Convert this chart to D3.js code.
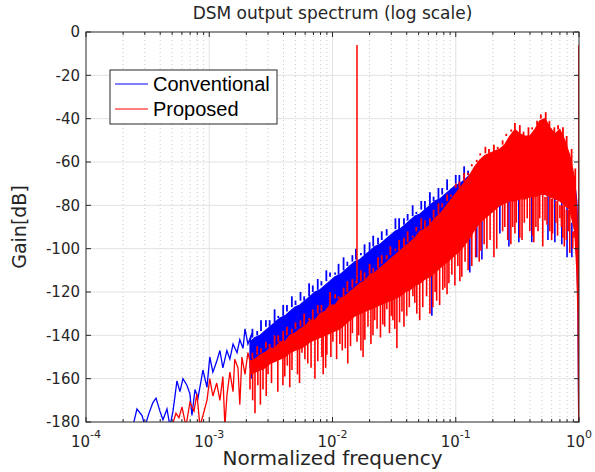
<!DOCTYPE html>
<html>
<head>
<meta charset="utf-8">
<script src="https://cdn.jsdelivr.net/npm/d3@7"></script>
<style>
  body { margin: 0; background: #fff; }
  svg text { font-family: "DejaVu Sans", "Noto Sans", sans-serif; fill: #262626; }
  .legend text { font-family: "Liberation Sans", Arial, sans-serif; fill: #000; }
</style>
</head>
<body>
<div id="chart"></div>
<script>
// DSM output spectrum — two noisy spectra on a log-frequency axis

const width = 595;
const height = 472;
const margin = { top: 32, right: 16, bottom: 50, left: 86 };

// ---- data ----
const yTicks = [0, -20, -40, -60, -80, -100, -120, -140, -160, -180];
const xDecades = [1e-4, 1e-3, 1e-2, 1e-1, 1];
const xExponents = ["-4", "-3", "-2", "-1", "0"];
const seriesNames = ["Conventional", "Proposed"];

// frequency grid of the dense part of both spectra
const freqs = [
  2.14e-3, 2.35e-3, 2.58e-3, 2.83e-3, 3.11e-3, 3.41e-3, 3.74e-3, 4.11e-3, 4.51e-3, 4.95e-3,
  5.44e-3, 5.97e-3, 6.56e-3, 7.20e-3, 7.91e-3, 8.68e-3, 9.53e-3, 1.045e-2, 1.148e-2, 1.26e-2,
  1.38e-2, 1.52e-2, 1.67e-2, 1.83e-2, 2.01e-2, 2.21e-2, 2.42e-2, 2.66e-2, 2.92e-2, 3.21e-2,
  3.52e-2, 3.87e-2, 4.25e-2, 4.66e-2, 5.12e-2, 5.62e-2, 6.17e-2, 6.77e-2, 7.43e-2, 8.16e-2,
  8.96e-2, 9.84e-2, 0.108, 0.119, 0.130, 0.143, 0.157, 0.172, 0.189, 0.207,
  0.228, 0.250, 0.275, 0.302, 0.331, 0.363, 0.399, 0.438, 0.481, 0.528,
  0.580, 0.637, 0.699, 0.767, 0.842, 0.924, 0.96, 0.98, 0.995
];

// Conventional: upper and lower edge of the dense band (dB)
const convTop = [
  -143, -141, -140, -138, -136, -134, -132, -131, -129, -127,
  -126, -124, -122, -120, -119, -117, -115, -113, -112, -110,
  -108, -106, -105, -103, -101, -99, -98, -96, -94, -92,
  -91, -89, -87, -85, -84, -82, -80, -78, -77, -75,
  -73, -71, -70, -68, -66, -63, -60, -59, -58, -57,
  -56, -53, -50, -47, -49, -50, -50, -47, -43, -42,
  -46, -49, -47, -52, -59, -70, -78, -95, -185
];
const convFloor = [
  -155, -154, -152, -151, -149, -149, -146, -146, -143, -142,
  -140, -139, -136, -136, -133, -132, -129, -129, -126, -125,
  -123, -121, -119, -118, -115, -114, -112, -110, -108, -106,
  -104, -102, -100, -98, -95, -94, -92, -89, -87, -84,
  -81, -79, -76, -73, -70, -85, -84, -82, -80, -78,
  -77, -76, -75, -75, -74, -74, -73, -73, -72, -72,
  -73, -74, -75, -77, -79, -88, -105, -125, -185
];

// Proposed: upper and lower edge of the dense band (dB)
const propTop = [
  -152, -151, -149, -148, -146, -146, -143, -143, -140, -139,
  -137, -136, -133, -133, -130, -129, -126, -126, -123, -122,
  -120, -118, -116, -115, -112, -111, -109, -107, -105, -103,
  -101, -99, -97, -95, -92, -91, -89, -86, -84, -81,
  -78, -75, -72, -69, -66, -62, -59, -57, -56, -55,
  -54, -52, -48, -45, -47, -48, -48, -45, -41, -40,
  -44, -47, -45, -50, -57, -68, -82, -100, -185
];
const propFloor = [
  -158, -157, -156, -155, -153, -152, -151, -150, -148, -147,
  -146, -145, -143, -142, -141, -140, -139, -138, -137, -135,
  -133, -131, -130, -129, -128, -127, -126, -125, -124, -123,
  -122, -120, -119, -117, -116, -114, -113, -111, -109, -107,
  -105, -103, -101, -98, -95, -91, -88, -86, -84, -82,
  -80, -79, -78, -78, -77, -77, -76, -76, -75, -75,
  -76, -77, -78, -80, -82, -92, -110, -130, -185
];

// peaks poking above the band, [frequency, dB]
const convSpikes = [
  [2.24e-3, -137], [2.45e-3, -138], [2.63e-3, -133], [2.88e-3, -133], [3.09e-3, -133],
  [3.39e-3, -128], [3.63e-3, -131], [3.98e-3, -126], [4.27e-3, -126], [4.68e-3, -122],
  [5.01e-3, -124], [5.50e-3, -120], [5.89e-3, -122], [6.46e-3, -116], [6.92e-3, -117],
  [7.59e-3, -114], [8.13e-3, -115], [8.91e-3, -110], [9.55e-3, -111], [1.05e-2, -111],
  [1.12e-2, -107], [1.23e-2, -104], [1.32e-2, -106], [1.45e-2, -103], [1.55e-2, -100],
  [1.70e-2, -102], [1.82e-2, -98], [2.00e-2, -97], [2.14e-2, -94], [2.34e-2, -95],
  [2.51e-2, -92], [2.75e-2, -91], [2.95e-2, -92], [3.24e-2, -86], [3.47e-2, -86],
  [3.80e-2, -86], [4.07e-2, -84], [4.47e-2, -80], [4.79e-2, -83], [5.25e-2, -78],
  [5.62e-2, -78], [6.17e-2, -74], [6.61e-2, -76], [7.24e-2, -72], [7.76e-2, -72],
  [8.51e-2, -68], [9.12e-2, -71], [0.100, -66], [0.107, -66], [0.117, -62],
  [0.126, -64]
];
const propSpikes = [
  [2.24e-3, -148], [2.45e-3, -145], [2.63e-3, -146], [2.88e-3, -143], [3.09e-3, -144],
  [3.39e-3, -140], [3.63e-3, -140], [3.98e-3, -138], [4.27e-3, -136], [4.68e-3, -137],
  [5.01e-3, -134], [5.50e-3, -133], [5.89e-3, -130], [6.46e-3, -132], [6.92e-3, -128],
  [7.59e-3, -126], [8.13e-3, -126], [8.91e-3, -126], [9.55e-3, -120], [1.05e-2, -121],
  [1.12e-2, -122], [1.23e-2, -118], [1.32e-2, -115], [1.45e-2, -114], [1.55e-2, -115],
  [1.70e-2, -110], [1.82e-2, -111], [2.00e-2, -107], [2.14e-2, -109], [2.34e-2, -104],
  [2.51e-2, -103], [2.75e-2, -103], [2.95e-2, -99], [3.24e-2, -100], [3.47e-2, -96],
  [3.80e-2, -95], [4.07e-2, -92], [4.47e-2, -94], [4.79e-2, -90], [5.25e-2, -86],
  [5.62e-2, -87], [6.17e-2, -86], [6.61e-2, -82], [7.24e-2, -79], [7.76e-2, -79],
  [8.51e-2, -75], [9.12e-2, -76], [0.100, -70], [0.107, -69], [0.117, -65],
  [0.126, -65], [0.135, -61], [0.148, -60], [0.158, -56], [0.174, -53],
  [0.186, -54], [0.204, -52], [0.219, -53], [0.240, -50], [0.257, -47],
  [0.282, -46], [0.302, -42], [0.331, -43], [0.355, -46], [0.389, -44],
  [0.417, -44], [0.457, -43], [0.490, -38], [0.537, -37], [0.575, -41],
  [0.631, -44], [0.676, -43], [0.741, -44], [0.794, -48], [0.871, -54],
  [0.933, -63]
];

// sparse low-frequency parts, [frequency, dB]
const convLow = [
  [2.40e-4, -182], [2.59e-4, -174], [2.85e-4, -177], [3.01e-4, -182], [3.24e-4, -176],
  [3.49e-4, -171], [3.70e-4, -169], [3.98e-4, -175], [4.21e-4, -179], [4.54e-4, -174],
  [4.80e-4, -182], [5.08e-4, -175], [5.47e-4, -161], [5.78e-4, -166], [6.12e-4, -160],
  [6.59e-4, -163], [6.97e-4, -167], [7.24e-4, -177], [7.66e-4, -165], [8.10e-4, -169],
  [8.89e-4, -156], [9.58e-4, -164], [1.01e-3, -150], [1.07e-3, -157], [1.15e-3, -152],
  [1.22e-3, -147], [1.29e-3, -155], [1.39e-3, -147], [1.47e-3, -151], [1.56e-3, -144],
  [1.68e-3, -148], [1.77e-3, -142], [1.88e-3, -146], [1.95e-3, -137], [2.06e-3, -144],
  [2.22e-3, -139]
];
const propLow = [
  [4.98e-4, -182], [5.37e-4, -176], [5.68e-4, -178], [6.01e-4, -173], [6.47e-4, -182],
  [6.97e-4, -171], [7.52e-4, -175], [7.94e-4, -167], [8.41e-4, -182], [8.89e-4, -177],
  [9.58e-4, -170], [1.01e-3, -160], [1.07e-3, -168], [1.15e-3, -162], [1.22e-3, -170],
  [1.29e-3, -159], [1.34e-3, -182], [1.39e-3, -168], [1.47e-3, -157], [1.56e-3, -166],
  [1.61e-3, -151], [1.71e-3, -155], [1.77e-3, -172], [1.84e-3, -150], [1.95e-3, -158],
  [2.06e-3, -148], [2.22e-3, -156]
];

// deep notches below the dense band, [frequency, dB]
const convDips = [
  [2.2e-3, -160], [2.7e-3, -156], [4.01e-2, -117], [6.4e-2, -131], [0.130, -111],
  [0.148, -104], [0.163, -105], [0.228, -93], [0.270, -99], [0.325, -97],
  [0.414, -97], [0.56, -96], [0.637, -97], [0.725, -98], [0.80, -104],
  [0.875, -104], [0.96, -90]
];
const propDips = [
  [2.14e-3, -165], [2.35e-3, -176], [2.48e-3, -163], [2.73e-3, -165], [3.0e-3, -158],
  [3.41e-3, -151], [3.96e-3, -163], [4.3e-3, -154], [4.69e-3, -156], [5.65e-3, -148],
  [5.97e-3, -151], [6.3e-3, -153], [7.2e-3, -160], [8.2e-3, -150], [8.4e-3, -158],
  [9.0e-3, -149], [1.007e-2, -143], [1.148e-2, -144], [1.2e-2, -147], [1.33e-2, -153],
  [1.45e-2, -139], [1.58e-2, -143], [1.7e-2, -147], [1.83e-2, -142], [1.94e-2, -136],
  [2.13e-2, -140], [2.3e-2, -137], [2.56e-2, -135], [2.76e-2, -128], [2.9e-2, -139],
  [3.09e-2, -133], [3.33e-2, -146], [3.5e-2, -134], [3.66e-2, -129], [4.0e-2, -131],
  [4.49e-2, -122], [4.83e-2, -130], [5.4e-2, -127], [6.17e-2, -130], [6.52e-2, -127],
  [7.0e-2, -124], [7.85e-2, -119], [8.16e-2, -118], [8.8e-2, -116], [9.84e-2, -117],
  [0.104, -108], [0.112, -113], [0.119, -106], [0.135, -108], [0.145, -104],
  [0.16, -101], [0.179, -100], [0.19, -96], [0.204, -104], [0.240, -92],
  [0.264, -96], [0.29, -90], [0.302, -93], [0.331, -95], [0.36, -88],
  [0.399, -92], [0.42, -94], [0.447, -90], [0.48, -86], [0.508, -99],
  [0.55, -89], [0.580, -92], [0.61, -93], [0.649, -88], [0.70, -86],
  [0.739, -95], [0.79, -96], [0.842, -102],
  [2.25e-3, -170], [2.6e-3, -172], [2.9e-3, -168], [3.2e-3, -162], [3.6e-3, -166],
  [4.1e-3, -159], [4.5e-3, -164], [5.2e-3, -158], [5.4e-3, -162], [6.7e-3, -155],
  [7.6e-3, -152], [8.8e-3, -155], [9.7e-3, -150], [1.08e-2, -151], [1.27e-2, -146],
  [1.4e-2, -145], [1.63e-2, -140], [1.77e-2, -150], [2.05e-2, -144], [2.2e-2, -133],
  [2.45e-2, -141], [2.65e-2, -136], [3.0e-2, -131], [3.2e-2, -137], [3.8e-2, -136],
  [4.2e-2, -127], [4.65e-2, -125], [5.1e-2, -133], [5.8e-2, -122], [6.8e-2, -120],
  [7.4e-2, -126], [8.5e-2, -121], [9.3e-2, -112], [0.108, -115], [0.126, -110],
  [0.155, -106], [0.17, -98], [0.215, -100], [0.25, -90], [0.28, -98],
  [0.31, -88], [0.345, -96], [0.38, -86], [0.43, -97], [0.465, -92],
  [0.53, -87], [0.6, -96], [0.67, -94], [0.72, -90], [0.76, -99],
  [0.82, -92], [0.89, -100], [0.91, -95]
];

// signal tones (red), [frequency, peak dB]
const tones = [[0.0158, -6], [0.997, -6]];

// ---- chart ----
const svg = d3.select("#chart")
  .append("svg")
  .attr("width", width)
  .attr("height", height);

const x = d3.scaleLog()
  .domain([1e-4, 1])
  .range([margin.left, width - margin.right]);

const y = d3.scaleLinear()
  .domain([-180, 0])
  .range([height - margin.bottom, margin.top]);

const x0 = x.range()[0], x1 = x.range()[1];
const y0 = y.range()[0], y1 = y.range()[1];

// grid: dotted minor verticals, solid majors
const minor = x.ticks().filter(t => !xDecades.some(d => Math.abs(d - t) / d < 1e-9));
svg.append("g").selectAll("line")
  .data(minor)
  .join("line")
  .attr("x1", d => x(d)).attr("x2", d => x(d))
  .attr("y1", y1).attr("y2", y0)
  .attr("stroke", "#c8c8c8")
  .attr("stroke-width", 1)
  .attr("stroke-dasharray", "1,3");

svg.append("g").selectAll("line")
  .data(xDecades.slice(1, -1))
  .join("line")
  .attr("x1", d => x(d)).attr("x2", d => x(d))
  .attr("y1", y1).attr("y2", y0)
  .attr("stroke", "#e2e2e2");

svg.append("g").selectAll("line")
  .data(yTicks.slice(1, -1))
  .join("line")
  .attr("x1", x0).attr("x2", x1)
  .attr("y1", d => y(d)).attr("y2", d => y(d))
  .attr("stroke", "#e2e2e2");

// data
svg.append("clipPath").attr("id", "plot")
  .append("rect")
  .attr("x", x0).attr("y", y1)
  .attr("width", x1 - x0).attr("height", y0 - y1);

const plot = svg.append("g").attr("clip-path", "url(#plot)");

const band = (top, floor) => d3.area()
  .x((d, i) => x(freqs[i]))
  .y0((d, i) => y(floor[i]))
  .y1((d, i) => y(top[i]));

const line = d3.line().x(d => x(d[0])).y(d => y(d[1]));

// index of the grid frequency at or just above f
const gridIndex = f => Math.min(d3.bisectLeft(freqs, f), freqs.length - 1);

// vertical hairs hanging from (or standing on) an edge of the band
function hairs(data, edge, color, w) {
  plot.append("g").selectAll("line")
    .data(data)
    .join("line")
    .attr("x1", d => x(d[0])).attr("x2", d => x(d[0]))
    .attr("y1", d => y(d[1]))
    .attr("y2", d => y(edge[gridIndex(d[0])]))
    .attr("stroke", color)
    .attr("stroke-width", w);
}

function drawSeries(color, top, floor, low, spikes, dips) {
  plot.append("path")
    .datum(freqs)
    .attr("fill", color)
    .attr("stroke", color)
    .attr("stroke-width", 1.2)
    .attr("stroke-linejoin", "round")
    .attr("d", band(top, floor));

  plot.append("path")
    .datum(low.concat([[freqs[0], top[0]]]))
    .attr("fill", "none")
    .attr("stroke", color)
    .attr("stroke-width", 1.3)
    .attr("d", line);

  hairs(spikes, top, color, 1.8);
  hairs(dips, floor, color, 1.6);
}

drawSeries("#0000ff", convTop, convFloor, convLow, convSpikes, convDips);
drawSeries("#ff0000", propTop, propFloor, propLow, propSpikes, propDips);

hairs(tones, propTop, "#ff0000", 1.5);

// axes box and inward ticks (all four sides)
const axisColor = "#262626";
const ax = svg.append("g").attr("stroke", axisColor).attr("fill", "none");

ax.append("rect")
  .attr("x", x0).attr("y", y1)
  .attr("width", x1 - x0).attr("height", y0 - y1)
  .attr("stroke-width", 1);

[y0, y1].forEach(yy => {
  const dir = yy === y0 ? -1 : 1;
  ax.append("g").selectAll("line")
    .data(xDecades)
    .join("line")
    .attr("x1", d => x(d)).attr("x2", d => x(d))
    .attr("y1", yy).attr("y2", yy + dir * 5);
  ax.append("g").selectAll("line")
    .data(minor)
    .join("line")
    .attr("x1", d => x(d)).attr("x2", d => x(d))
    .attr("y1", yy).attr("y2", yy + dir * 3);
});

[x0, x1].forEach(xx => {
  const dir = xx === x0 ? 1 : -1;
  ax.append("g").selectAll("line")
    .data(yTicks)
    .join("line")
    .attr("x1", xx).attr("x2", xx + dir * 5)
    .attr("y1", d => y(d)).attr("y2", d => y(d));
});

// tick labels
svg.append("g").selectAll("text")
  .data(yTicks)
  .join("text")
  .attr("x", x0 - 6)
  .attr("y", d => y(d))
  .attr("dy", "0.36em")
  .attr("text-anchor", "end")
  .attr("font-size", 15)
  .text(d => d);

const xl = svg.append("g").selectAll("text")
  .data(xDecades)
  .join("text")
  .attr("x", d => x(d))
  .attr("y", y0 + 25)
  .attr("text-anchor", "middle")
  .attr("font-size", 15);
xl.append("tspan").text("10");
xl.append("tspan")
  .attr("font-size", 11)
  .attr("dy", -9)
  .text((d, i) => xExponents[i]);

// titles
svg.append("text")
  .attr("x", (x0 + x1) / 2)
  .attr("y", 19)
  .attr("text-anchor", "middle")
  .attr("font-size", 17)
  .text("DSM output spectrum (log scale)");

svg.append("text")
  .attr("x", (x0 + x1) / 2)
  .attr("y", 465)
  .attr("text-anchor", "middle")
  .attr("font-size", 20)
  .text("Normalized frequency");

svg.append("text")
  .attr("transform", `translate(26, ${(y0 + y1) / 2}) rotate(-90)`)
  .attr("text-anchor", "middle")
  .attr("font-size", 19)
  .text("Gain[dB]");

// legend
const legend = svg.append("g").attr("class", "legend");
legend.append("rect")
  .attr("x", 110).attr("y", 70)
  .attr("width", 167).attr("height", 54)
  .attr("fill", "#fff")
  .attr("stroke", axisColor)
  .attr("stroke-width", 1);

const items = legend.selectAll("g.item")
  .data(seriesNames)
  .join("g")
  .attr("class", "item")
  .attr("transform", (d, i) => `translate(0, ${84 + i * 25})`);

items.append("line")
  .attr("x1", 115).attr("x2", 148)
  .attr("stroke", (d, i) => i === 0 ? "#0000ff" : "#ff0000")
  .attr("stroke-width", 1);

items.append("text")
  .attr("x", 153)
  .attr("dy", "0.35em")
  .attr("font-size", 20)
  .text(d => d);
</script>
</body>
</html>
